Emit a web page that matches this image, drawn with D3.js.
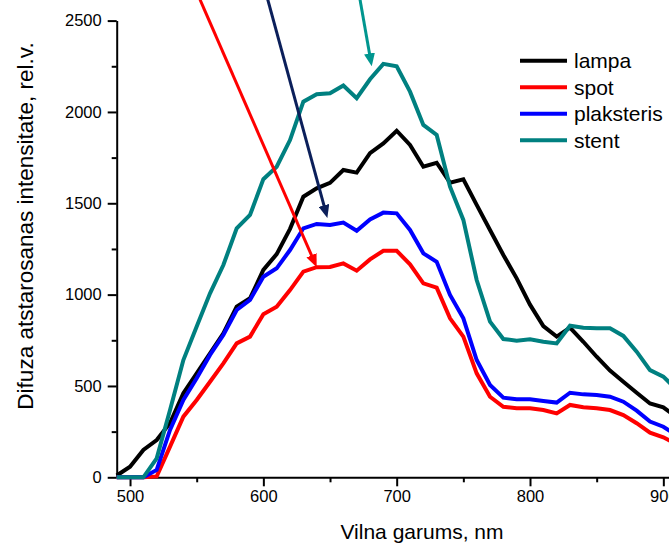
<!DOCTYPE html>
<html>
<head>
<meta charset="utf-8">
<script src="https://cdn.jsdelivr.net/npm/d3@7"></script>
<style>
  html, body { margin: 0; padding: 0; background: #fff; }
  svg { display: block; }
  text { font-family: "Liberation Sans", Arial, sans-serif; fill: #000; }
</style>
</head>
<body>
<div id="chart"></div>
<script>
// Wavelength grid, nm
const wavelengths = [490, 500, 510, 520, 530, 540, 550, 560, 570, 580, 590, 600, 610, 620, 630, 640, 650, 660, 670, 680, 690, 700, 710, 720, 730, 740, 750, 760, 770, 780, 790, 800, 810, 820, 830, 840, 850, 860, 870, 880, 890, 900, 910];

// Diffuse reflectance intensity, rel. units
const lampa = [10, 58, 150, 204, 297, 460, 569, 679, 788, 934, 980, 1135, 1222, 1360, 1536, 1582, 1612, 1682, 1668, 1774, 1828, 1897, 1819, 1700, 1722, 1613, 1631, 1491, 1354, 1217, 1089, 945, 828, 770, 819, 742, 660, 584, 523, 463, 404, 383, 330];
const spot = [0, 0, 0, 5, 168, 332, 423, 523, 624, 733, 770, 893, 934, 1025, 1126, 1150, 1151, 1171, 1131, 1193, 1240, 1240, 1166, 1062, 1038, 870, 770, 569, 441, 386, 378, 378, 368, 350, 396, 383, 378, 368, 341, 296, 244, 219, 180];
const plaksteris = [0, 0, 0, 40, 259, 423, 542, 670, 779, 916, 971, 1098, 1144, 1244, 1363, 1387, 1381, 1394, 1350, 1412, 1449, 1445, 1354, 1226, 1180, 998, 870, 642, 505, 436, 427, 427, 418, 409, 463, 454, 451, 441, 414, 365, 305, 277, 230];
const stent = [0, 0, 0, 104, 368, 642, 825, 1007, 1162, 1363, 1436, 1632, 1700, 1846, 2056, 2097, 2102, 2145, 2075, 2179, 2263, 2250, 2111, 1929, 1874, 1591, 1409, 1080, 852, 757, 748, 755, 742, 733, 830, 819, 816, 816, 774, 688, 587, 551, 480];

const seriesNames = ["lampa", "spot", "plaksteris", "stent"];
const seriesValues = [lampa, spot, plaksteris, stent];
const seriesColors = ["#000000", "#ff0000", "#0000ff", "#008080"];

// Axis ticks
const xMajorTicks = [500, 600, 700, 800, 900];
const xMinorTicks = [550, 650, 750, 850];
const yMajorTicks = [0, 500, 1000, 1500, 2000, 2500];
const yMinorTicks = [250, 750, 1250, 1750, 2250];

// Annotation arrows: start and tip in data units [wavelength, intensity]
const arrowStarts = [[552.5, 2615], [603.3, 2615], [672.5, 2615]];
const arrowTips = [[640, 1150], [648, 1420], [681.3, 2250]];
const arrowColors = ["#ff0000", "#0b1f5a", "#00968f"];

const xTitle = "Vilna garums, nm";
const yTitle = "Difuza atstarosanas intensitate, rel.v.";

const W = 669, H = 549;
const svg = d3.select("#chart").append("svg")
  .attr("width", W).attr("height", H);

const x = d3.scaleLinear().domain([490, 920]).range([116.7, 690]);
const y = d3.scaleLinear().domain([0, 2500]).range([477.3, 20.6]);

const tickFont = "16.5px";

// Y axis
const yAxis = svg.append("g").attr("transform", `translate(${x(490)},0)`);
yAxis.call(d3.axisLeft(y).tickValues(yMajorTicks).tickSize(9).tickSizeOuter(0).tickPadding(6).tickFormat(d3.format("d")));
yAxis.append("g").call(d3.axisLeft(y).tickValues(yMinorTicks).tickSize(5).tickSizeOuter(0).tickFormat(""))
  .select(".domain").remove();

// X axis
const xAxis = svg.append("g").attr("transform", `translate(0,${y(0)})`);
xAxis.call(d3.axisBottom(x).tickValues(xMajorTicks).tickSize(9).tickSizeOuter(0).tickPadding(4).tickFormat(d3.format("d")));
xAxis.append("g").call(d3.axisBottom(x).tickValues(xMinorTicks).tickSize(5).tickSizeOuter(0).tickFormat(""))
  .select(".domain").remove();

svg.selectAll(".domain, .tick line").attr("stroke", "#000").attr("stroke-width", 2);
svg.selectAll(".tick text").style("font-size", tickFont).style("font-family", "'Liberation Sans', Arial, sans-serif").attr("fill", "#000");

// Series lines
const line = d3.line()
  .x((d, i) => x(wavelengths[i]))
  .y(d => y(d))
  .curve(d3.curveLinear);

seriesValues.forEach((vals, k) => {
  svg.append("path")
    .datum(vals)
    .attr("d", line)
    .attr("fill", "none")
    .attr("stroke", seriesColors[k])
    .attr("stroke-width", 4)
    .attr("stroke-linejoin", "miter")
    .attr("stroke-miterlimit", 3);
});

// Arrowhead markers
const defs = svg.append("defs");
arrowColors.forEach((c, i) => {
  defs.append("marker")
    .attr("id", "head" + i)
    .attr("viewBox", "0 0 13 11")
    .attr("refX", 13).attr("refY", 5.5)
    .attr("markerWidth", 13).attr("markerHeight", 11)
    .attr("markerUnits", "userSpaceOnUse")
    .attr("orient", "auto")
    .append("path")
    .attr("d", "M0,0 L13,5.5 L0,11 Z")
    .attr("fill", c);
});

arrowStarts.forEach((s, i) => {
  const t = arrowTips[i];
  const x1 = x(s[0]), y1 = y(s[1]), x2 = x(t[0]), y2 = y(t[1]);
  const len = Math.hypot(x2 - x1, y2 - y1);
  // shaft stops short of the tip so the marker carries the point
  const ex = x2 - (x2 - x1) / len * 9, ey = y2 - (y2 - y1) / len * 9;
  svg.append("line")
    .attr("x1", x1).attr("y1", y1).attr("x2", ex).attr("y2", ey)
    .attr("stroke", arrowColors[i]).attr("stroke-width", 3);
  svg.append("path")
    .attr("d", `M${ex},${ey}L${x2},${y2}`)
    .attr("stroke", "none")
    .attr("marker-end", `url(#head${i})`);
});

// Legend
const legend = svg.append("g");
seriesNames.forEach((name, i) => {
  const ly = 60.7 + i * 26.5;
  legend.append("line")
    .attr("x1", 520).attr("x2", 567).attr("y1", ly).attr("y2", ly)
    .attr("stroke", seriesColors[i]).attr("stroke-width", 4);
  legend.append("text")
    .attr("x", 574).attr("y", ly + 7.5)
    .style("font-size", "21px")
    .text(name);
});

// Axis titles
svg.append("text")
  .attr("x", 422).attr("y", 539)
  .attr("text-anchor", "middle")
  .style("font-size", "21px")
  .text(xTitle);

svg.append("text")
  .attr("transform", "translate(33,226) rotate(-90)")
  .attr("text-anchor", "middle")
  .style("font-size", "22.5px")
  .text(yTitle);
</script>
</body>
</html>
